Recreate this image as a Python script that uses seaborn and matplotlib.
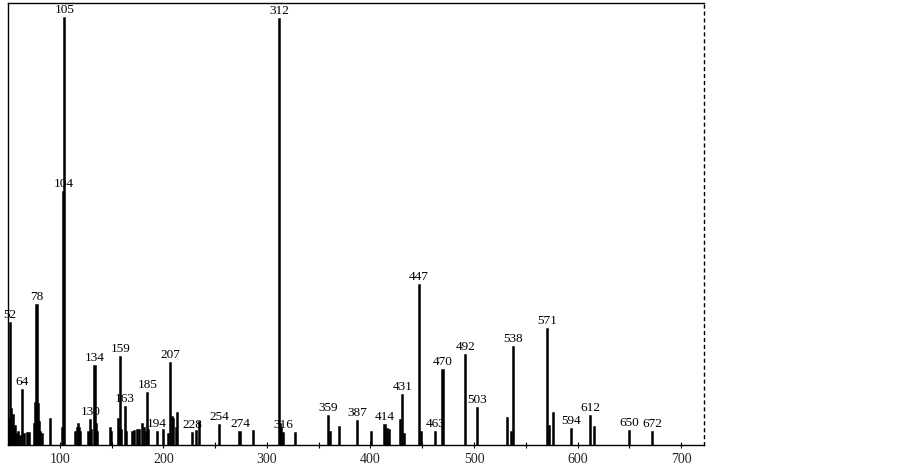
import numpy as np
import pandas as pd
import seaborn as sns
import matplotlib
matplotlib.use("Agg")
import matplotlib.pyplot as plt

# labelled peaks: m/z and relative intensity (%)
label_mz = [52, 64, 78, 104, 105, 130, 134, 159, 163, 185, 194, 207, 228, 254,
            274, 312, 316, 359, 387, 414, 431, 447, 463, 470, 492, 503, 538,
            571, 594, 612, 650, 672]
label_int = [28.6, 12.9, 32.8, 59.3, 100.0, 5.9, 18.5, 20.6, 8.9, 12.2, 3.0,
             19.2, 2.8, 4.7, 3.0, 99.8, 2.8, 6.8, 5.6, 4.7, 11.7, 37.5, 3.0,
             17.6, 21.1, 8.7, 23.0, 27.2, 3.7, 6.8, 3.3, 3.0]

# unlabelled minor peaks
minor_mz = [51, 53, 54, 55, 56, 57, 58, 60, 62, 66, 69, 71, 76, 77, 79, 80, 81,
            83, 91, 103, 115, 117, 118, 119, 120, 128, 129, 131, 135, 136, 149,
            150, 157, 158, 160, 164, 170, 172, 175, 177, 180, 182, 184, 186,
            200, 205, 209, 210, 213, 214, 232, 235, 287, 313, 314, 328, 361,
            370, 401, 416, 418, 429, 433, 449, 532, 536, 573, 577, 616]
minor_int = [6.0, 8.5, 5.0, 7.0, 3.5, 4.5, 2.5, 3.0, 2.0, 2.5, 2.8, 2.8, 5.0,
             9.8, 9.5, 5.5, 3.0, 2.5, 6.0, 4.0, 3.0, 4.0, 5.0, 4.0, 3.0, 3.0,
             2.5, 3.5, 5.0, 3.0, 4.0, 3.0, 6.0, 4.0, 3.5, 3.0, 3.0, 3.2, 3.5,
             3.5, 5.0, 4.0, 3.0, 3.5, 3.5, 2.5, 6.5, 6.0, 4.0, 7.5, 3.2, 5.5,
             3.3, 5.0, 4.0, 2.8, 3.0, 4.2, 3.0, 3.8, 3.5, 5.8, 2.5, 3.0, 6.3,
             3.0, 4.5, 7.5, 4.2]

x_ticks = [100, 200, 300, 400, 500, 600, 700]

peaks = pd.DataFrame({"mz": label_mz + minor_mz,
                      "intensity": label_int + minor_int}).sort_values("mz")

sns.set_style("ticks")
plt.rcParams["font.family"] = ["Liberation Serif", "DejaVu Serif"]

fig = plt.figure(figsize=(9.03, 4.68), dpi=100)
ax = fig.add_axes([8 / 903, 23 / 468, 696 / 903, 442 / 468])

sns.barplot(data=peaks, x="mz", y="intensity", native_scale=True,
            width=1.0, color="black", edgecolor="black", linewidth=1.1,
            errorbar=None, ax=ax)

for m, v in zip(label_mz, label_int):
    ax.text(m, v + 0.4, str(m), ha="center", va="bottom", fontsize=9.5,
            color="black")

ax.set_xlim(50, 722)
ax.set_ylim(0, 103.5)
ax.set_xticks(x_ticks)
ax.set_xticklabels([str(t) for t in x_ticks], fontsize=10)
ax.set_xticks([150, 250, 350, 450, 550, 650], minor=True)
ax.tick_params(axis="x", which="both", direction="inout", length=4,
               width=0.8, pad=4, color="black")
ax.set_yticks([])
ax.set_xlabel("")
ax.set_ylabel("")
for side in ["left", "bottom", "top"]:
    ax.spines[side].set_visible(True)
    ax.spines[side].set_color("black")
    ax.spines[side].set_linewidth(1.0)
ax.spines["right"].set_visible(True)
ax.spines["right"].set_color("black")
ax.spines["right"].set_linewidth(1.0)
ax.spines["right"].set_linestyle((0, (2, 3)))

fig.savefig("out.png", dpi=100)
